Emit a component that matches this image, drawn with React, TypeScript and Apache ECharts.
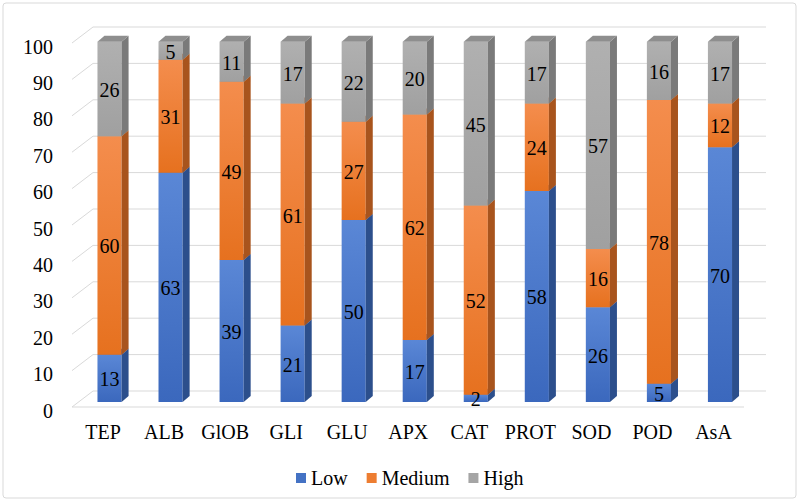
import React, { useEffect, useRef } from "react";
import * as echarts from "echarts";

const categories = ["TEP", "ALB", "GlOB", "GLI", "GLU", "APX", "CAT", "PROT", "SOD", "POD", "AsA"];
const lowValues = [13, 63, 39, 21, 50, 17, 2, 58, 26, 5, 70];
const mediumValues = [60, 31, 49, 61, 27, 62, 52, 24, 16, 78, 12];
const highValues = [26, 5, 11, 17, 22, 20, 45, 17, 57, 16, 17];
const seriesNames = ["Low", "Medium", "High"];
const yTicks = [0, 10, 20, 30, 40, 50, 60, 70, 80, 90, 100];

const FONT = "Liberation Serif";

const palettes = [
  { main: "#4472C4", frontTop: "#5a87d6", frontBottom: "#3b68bd", side: "#2c4f8c", top: "#3a62ab" },
  { main: "#ED7D31", frontTop: "#f48d4d", frontBottom: "#e6711f", side: "#a8541d", top: "#c4682a" },
  { main: "#A5A5A5", frontTop: "#b0b0b0", frontBottom: "#a0a0a0", side: "#7a7a7a", top: "#8e8e8e" },
];

const DX = 7;
const DY = -6;

function buildSegments() {
  const all = [lowValues, mediumValues, highValues];
  const result: number[][][] = [[], [], []];
  categories.forEach((_, i) => {
    let base = 0;
    all.forEach((arr, s) => {
      result[s].push([i, base, arr[i]]);
      base += arr[i];
    });
  });
  return result;
}

function barRender(pal: any) {
  return (params: any, api: any) => {
    const idx = api.value(0);
    const base = api.value(1);
    const val = api.value(2);
    const p0 = api.coord([idx, base]);
    const p1 = api.coord([idx, base + val]);
    const band = api.size([1, 0])[0];
    const w = band * 0.395;
    const x0 = p0[0] - w / 2;
    const x1 = p0[0] + w / 2;
    const yb = p0[1];
    const yt = p1[1];
    return {
      type: "group",
      children: [
        {
          type: "rect",
          shape: { x: x0, y: yt, width: w, height: yb - yt },
          style: {
            fill: new echarts.graphic.LinearGradient(0, 0, 0, 1, [
              { offset: 0, color: pal.frontTop },
              { offset: 1, color: pal.frontBottom },
            ]),
          },
        },
        {
          type: "polygon",
          shape: { points: [[x1, yb], [x1 + DX, yb + DY], [x1 + DX, yt + DY], [x1, yt]] },
          style: { fill: pal.side },
        },
        {
          type: "polygon",
          shape: { points: [[x0, yt], [x0 + DX, yt + DY], [x1 + DX, yt + DY], [x1, yt]] },
          style: { fill: pal.top },
        },
      ],
    };
  };
}

function labelRender(params: any, api: any) {
  const idx = api.value(0);
  const base = api.value(1);
  const val = api.value(2);
  const p0 = api.coord([idx, base]);
  const p1 = api.coord([idx, base + val]);
  return {
    type: "text",
    x: p0[0],
    y: (p0[1] + p1[1]) / 2 + 1,
    style: {
      text: String(val),
      align: "center",
      verticalAlign: "middle",
      fontSize: 20,
      fontFamily: FONT,
      fill: "#000",
    },
  };
}

function frameRender(params: any, api: any) {
  const band = api.size([1, 0])[0];
  const left = api.coord([0, 0])[0] - band / 2;
  const right = api.coord([categories.length - 1, 0])[0] + band / 2;
  const children: any[] = [];
  const lineStyle = { stroke: "#d9d9d9", lineWidth: 1 };
  yTicks.forEach((v) => {
    const y = api.coord([0, v])[1];
    children.push({
      type: "line",
      shape: { x1: left + 14, y1: y - 11, x2: right + 15.5, y2: y - 11 },
      style: lineStyle,
    });
    children.push({
      type: "line",
      shape: { x1: left - 7, y1: y + 5, x2: left + 14, y2: y - 11 },
      style: lineStyle,
    });
    if (v === 0) {
      children.push({
        type: "line",
        shape: { x1: left - 7, y1: y + 5, x2: right - 6.5, y2: y + 5 },
        style: lineStyle,
      });
    }
  });
  return { type: "group", children };
}

export default function App() {
  const ref = useRef<HTMLDivElement>(null);
  useEffect(() => {
    if (!ref.current) return;
    const chart = echarts.init(ref.current, undefined, { renderer: "svg" });
    const segs = buildSegments();
    const allSegs = ([] as number[][]).concat(...segs);
    chart.setOption({
      animation: false,
      backgroundColor: "#ffffff",
      textStyle: { fontFamily: FONT },
      graphic: [
        {
          type: "rect",
          shape: { x: 3, y: 3, width: 793, height: 495, r: 3 },
          style: { fill: "none", stroke: "#d9d9d9", lineWidth: 1 },
          z: -10,
        },
      ],
      grid: { left: 79, right: 49.5, top: 38, bottom: 100 },
      xAxis: {
        type: "category",
        data: categories,
        axisLine: { show: false },
        axisTick: { show: false },
        splitLine: { show: false },
        axisLabel: {
          interval: 0,
          hideOverlap: false,
          fontSize: 20,
          fontFamily: FONT,
          color: "#000",
          margin: 20,
          padding: [0, 13, 0, 0],
        },
      },
      yAxis: {
        type: "value",
        min: 0,
        max: 100,
        interval: 10,
        axisLine: { show: false },
        axisTick: { show: false },
        splitLine: { show: false },
        axisLabel: {
          fontSize: 20,
          fontFamily: FONT,
          color: "#000",
          margin: 26,
          verticalAlign: "top",
          lineHeight: 17,
        },
      },
      legend: {
        data: seriesNames,
        left: 291,
        top: 463,
        icon: "rect",
        itemWidth: 10,
        itemHeight: 10,
        itemGap: 19,
        textStyle: { fontSize: 20, fontFamily: FONT, color: "#000" },
      },
      series: [
        {
          type: "custom",
          name: "frame",
          renderItem: frameRender,
          data: [[0, 0]],
          z: 1,
          silent: true,
        },
        ...seriesNames.map((name, s) => ({
          type: "custom",
          name,
          itemStyle: { color: palettes[s].main },
          renderItem: barRender(palettes[s]),
          data: segs[s],
          z: 2,
        })),
        {
          type: "custom",
          name: "labels",
          renderItem: labelRender,
          data: allSegs,
          z: 5,
          silent: true,
        },
      ],
    });
    return () => chart.dispose();
  }, []);
  return (
    <div
      ref={ref}
      style={{ position: "fixed", left: 0, top: 0, width: 800, height: 502 }}
    />
  );
}
